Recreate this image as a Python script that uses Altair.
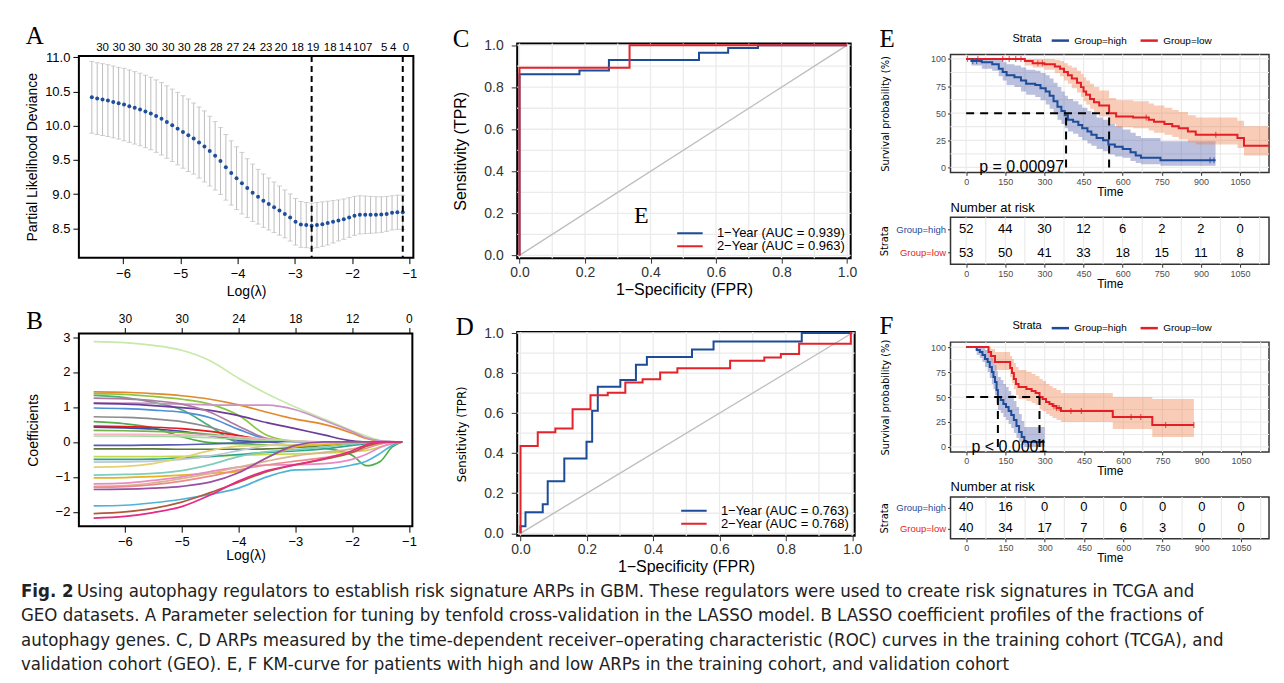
import json
import altair as alt
import pandas as pd

SANS = "Liberation Sans"
SERIF = "Liberation Serif"
NARROW = "DejaVu Sans Condensed, Roboto Condensed, Liberation Sans Narrow, Liberation Sans"

# ---------------- Panel A : cross-validation curve ----------------
A_loglambda = [-6.544, -6.450, -6.357, -6.263, -6.170, -6.076, -5.982, -5.889, -5.795, -5.702,
               -5.608, -5.514, -5.421, -5.327, -5.234, -5.140, -5.046, -4.953, -4.859, -4.766,
               -4.672, -4.578, -4.485, -4.391, -4.298, -4.204, -4.110, -4.017, -3.923, -3.830,
               -3.736, -3.642, -3.549, -3.455, -3.362, -3.268, -3.174, -3.081, -2.987, -2.894,
               -2.800, -2.706, -2.613, -2.519, -2.426, -2.332, -2.238, -2.145, -2.051, -1.958,
               -1.864, -1.770, -1.677, -1.583, -1.490, -1.396, -1.302, -1.209, -1.115]
A_cvm = [10.415, 10.396, 10.382, 10.367, 10.348, 10.329, 10.309, 10.285, 10.261, 10.237,
         10.208, 10.179, 10.140, 10.101, 10.053, 10.005, 9.957, 9.908, 9.860, 9.812,
         9.754, 9.696, 9.628, 9.560, 9.483, 9.391, 9.309, 9.232, 9.159, 9.087,
         9.019, 8.961, 8.903, 8.855, 8.807, 8.758, 8.710, 8.657, 8.594, 8.556,
         8.546, 8.536, 8.546, 8.560, 8.575, 8.594, 8.614, 8.633, 8.657, 8.681,
         8.696, 8.696, 8.696, 8.696, 8.700, 8.710, 8.725, 8.734, 8.734]
A_cvsd = [0.525, 0.525, 0.525, 0.525, 0.525, 0.525, 0.53, 0.53, 0.53, 0.53, 0.53,
          0.53, 0.53, 0.53, 0.53, 0.53, 0.53, 0.53, 0.53, 0.52, 0.52,
          0.52, 0.51, 0.50, 0.49, 0.48, 0.47, 0.46, 0.45, 0.43, 0.42,
          0.40, 0.39, 0.38, 0.37, 0.36, 0.35, 0.345, 0.34, 0.335, 0.33,
          0.33, 0.33, 0.325, 0.32, 0.31, 0.30, 0.295, 0.29, 0.285, 0.28,
          0.275, 0.27, 0.265, 0.26, 0.255, 0.25, 0.25, 0.25]
A_vlines = [-2.706, -1.115]
A_top_pos = [-6.365, -6.08, -5.81, -5.51, -5.22, -4.94, -4.66, -4.38, -4.09, -3.81, -3.51,
             -3.25, -2.96, -2.69, -2.39, -2.13, -1.88, -1.71, -1.45, -1.29, -1.07]
A_top_lab = ["30", "30", "30", "30", "30", "30", "28", "28", "27", "24", "23",
             "20", "18", "19", "18", "14", "10", "7", "5", "4", "0"]

# ---------------- Panel B : coefficient paths ----------------
B_grid = [-6.55, -6.0, -5.5, -5.0, -4.5, -4.0, -3.5, -3.0, -2.5, -2.0, -1.75, -1.5, -1.3, -1.12]
B_coef = {
    "g01": [2.87, 2.84, 2.76, 2.62, 2.32, 1.82, 1.38, 1.00, 0.66, 0.32, 0.17, 0.04, 0.01, 0],
    "g02": [1.43, 1.42, 1.38, 1.32, 1.22, 1.06, 0.85, 0.65, 0.50, 0.25, 0.10, 0.02, 0.0, 0],
    "g03": [1.38, 1.36, 1.30, 1.22, 1.08, 0.76, 0.19, 0.02, 0, 0, 0, 0, 0, 0],
    "g04": [1.33, 1.27, 1.13, 0.92, 0.45, 0.0, 0, 0, 0, 0, 0, 0, 0, 0],
    "g05": [1.12, 1.11, 1.10, 1.08, 1.06, 1.05, 1.05, 0.92, 0.62, 0.30, 0.12, 0.03, 0.01, 0],
    "g06": [1.10, 1.08, 1.04, 0.98, 0.90, 0.75, 0.55, 0.38, 0.20, 0.03, 0, 0, 0, 0],
    "g07": [1.25, 1.23, 1.18, 1.08, 0.85, 0.45, 0.10, 0, 0, 0, 0, 0, 0, 0],
    "g08": [0.97, 0.95, 0.91, 0.85, 0.69, 0.36, 0.08, 0, 0, 0, 0, 0, 0, 0],
    "g09": [0.72, 0.70, 0.66, 0.58, 0.42, 0.18, 0.03, 0, 0, 0, 0, 0, 0, 0],
    "g10": [0.58, 0.52, 0.40, 0.15, -0.02, -0.05, -0.08, -0.12, -0.18, -0.38, -0.68, -0.55, -0.15, 0],
    "g11": [0.45, 0.44, 0.42, 0.38, 0.30, 0.18, 0.05, 0, 0, 0, 0, 0, 0, 0],
    "g12": [0.42, 0.40, 0.37, 0.30, 0.18, 0.05, 0, 0, 0, 0, 0, 0, 0, 0],
    "g13": [0.33, 0.32, 0.30, 0.27, 0.22, 0.12, 0.04, 0, 0, 0, 0, 0, 0, 0],
    "g14": [0.22, 0.22, 0.21, 0.20, 0.18, 0.14, 0.08, 0.03, 0, 0, 0, 0, 0, 0],
    "g15": [0.17, 0.17, 0.16, 0.15, 0.12, 0.08, 0.04, 0.02, 0, 0, 0, 0, 0, 0],
    "g16": [-0.10, -0.10, -0.09, -0.08, -0.06, -0.03, 0, 0, 0, 0, 0, 0, 0, 0],
    "g17": [-0.20, -0.20, -0.20, -0.21, -0.21, -0.21, -0.20, -0.16, -0.10, -0.03, 0, 0, 0, 0],
    "g18": [-0.42, -0.42, -0.42, -0.41, -0.40, -0.38, -0.36, -0.34, -0.32, -0.28, -0.24, -0.14, -0.05, 0],
    "g19": [-0.50, -0.50, -0.49, -0.46, -0.42, -0.36, -0.30, -0.26, -0.20, -0.10, -0.05, -0.01, 0, 0],
    "g20": [-0.58, -0.57, -0.55, -0.50, -0.40, -0.25, -0.10, 0, 0, 0, 0, 0, 0, 0],
    "g21": [-0.72, -0.70, -0.62, -0.45, -0.25, -0.12, -0.10, -0.08, -0.05, -0.02, 0, 0, 0, 0],
    "g22": [-0.95, -0.93, -0.90, -0.82, -0.65, -0.42, -0.28, -0.22, -0.15, -0.06, -0.02, 0, 0, 0],
    "g23": [-1.03, -1.02, -0.99, -0.95, -0.90, -0.84, -0.45, -0.14, -0.08, -0.03, 0, 0, 0, 0],
    "g24": [-1.20, -1.18, -1.10, -1.00, -0.85, -0.72, -0.66, -0.65, -0.62, -0.50, -0.35, -0.15, -0.05, 0],
    "g25": [-1.27, -1.25, -1.17, -1.05, -0.90, -0.72, -0.55, -0.40, -0.30, -0.20, -0.12, -0.05, -0.01, 0],
    "g26": [-1.30, -1.28, -1.22, -1.12, -0.98, -0.80, -0.66, -0.55, -0.45, -0.30, -0.18, -0.06, -0.01, 0],
    "g27": [-1.36, -1.35, -1.32, -1.27, -1.15, -0.88, -0.45, -0.10, 0, 0, 0, 0, 0, 0],
    "g28": [-1.83, -1.81, -1.74, -1.64, -1.50, -1.32, -1.00, -0.80, -0.78, -0.66, -0.55, -0.32, -0.10, 0],
    "g29": [-2.05, -2.00, -1.90, -1.72, -1.45, -1.15, -0.85, -0.66, -0.50, -0.30, -0.12, -0.02, 0, 0],
    "g30": [-2.18, -2.13, -2.02, -1.85, -1.52, -1.12, -0.82, -0.65, -0.48, -0.25, -0.08, 0, 0, 0],
}
B_colors = ["#C7E9A9", "#E08A2B", "#8CC63F", "#4DAF7C", "#C994C7", "#6A3D9A", "#B07AA1", "#4E8FD6",
            "#8C8C8C", "#4DAF4A", "#E41A1C", "#3F48A8", "#74B347", "#F4B6C2", "#A6DBA0", "#5A5BB5",
            "#5C7A3A", "#C5D94A", "#2CA58D", "#B8C9D9", "#E3D26F", "#7FCDBB", "#E6B422", "#E78AC3",
            "#D9B48F", "#F08A8A", "#984EA3", "#4FB3D9", "#B05A3A", "#E7298A"]
B_top_pos = [-6, -5, -4, -3, -2, -1]
B_top_lab = ["30", "30", "24", "18", "12", "0"]

# ---------------- Panels C, D : ROC curves ----------------
ROC_TICKS = [0, 0.2, 0.4, 0.6, 0.8, 1.0]
ROC_GRID = [0, 0.1, 0.2, 0.3, 0.4, 0.5, 0.6, 0.7, 0.8, 0.9, 1.0]
DIAG = [0, 1]
C_labels = ["1\u2212Year (AUC = 0.939)", "2\u2212Year (AUC = 0.963)"]
C1_fpr = [0, 0.183, 0.273, 0.548, 0.637, 0.728, 1.0]
C1_tpr = [0, 0.862, 0.880, 0.929, 0.964, 0.987, 1.0]
C2_fpr = [0, 0.336, 1.0]
C2_tpr = [0, 0.892, 1.0]
C_stray = ["E"]
C_stray_fpr = [0.372]
C_stray_tpr = [0.188]

D_labels = ["1\u2212Year (AUC = 0.763)", "2\u2212Year (AUC = 0.768)"]
D1_fpr = [0, 0.015, 0.067, 0.082, 0.132, 0.199, 0.216, 0.233, 0.301, 0.348, 0.381, 0.517, 0.582, 0.848, 1.0]
D1_tpr = [0, 0.035, 0.105, 0.145, 0.260, 0.373, 0.457, 0.612, 0.732, 0.766, 0.841, 0.880, 0.918, 0.958, 1.0]
D2_fpr = [0, 0.052, 0.105, 0.157, 0.211, 0.263, 0.316, 0.368, 0.421, 0.473, 0.632, 0.735, 0.785, 0.840, 0.996, 1.0]
D2_tpr = [0, 0.436, 0.505, 0.523, 0.619, 0.689, 0.702, 0.753, 0.769, 0.803, 0.824, 0.861, 0.878, 0.895, 0.946, 1.0]

# ---------------- Panels E, F : Kaplan-Meier ----------------
GROUPS = ["Group=high", "Group=low"]
KM_TICKS = [0, 150, 300, 450, 600, 750, 900, 1050]
KM_XGRID = [0, 75, 150, 225, 300, 375, 450, 525, 600, 675, 750, 825, 900, 975, 1050, 1125]
KM_YTICKS = [0, 25, 50, 75, 100]
KM_YGRID = [0, 12.5, 25, 37.5, 50, 62.5, 75, 87.5, 100]
MEDIAN_LEVEL = 50

E_hi_t = [0, 20, 60, 100, 125, 140, 155, 185, 210, 230, 265, 285, 305, 320, 335, 350, 365, 378, 390, 410,
          430, 445, 465, 480, 500, 525, 545, 570, 600, 630, 650, 670, 745, 956]
E_hi_s = [100, 98, 97, 95, 91, 88, 85, 83, 80, 77, 76, 73, 70, 66, 61, 56, 52, 48, 44, 42,
          39, 36, 33, 30, 27, 25, 21, 19, 17, 14, 11, 9, 6.5, 6.5]
E_hi_u = [100, 100, 100, 100, 99, 97, 95, 94, 92, 90, 89, 87, 85, 82, 78, 74, 70, 66, 63, 61,
          58, 55, 52, 49, 46, 44, 40, 38, 35, 32, 29, 27, 24, 24]
E_hi_l = [100, 94, 91, 89, 84, 80, 76, 74, 70, 67, 65, 62, 58, 54, 49, 44, 40, 36, 33, 31,
          28, 25, 22, 20, 17, 15, 12, 10, 9, 6, 4, 3, 1.5, 1.5]
E_lo_t = [0, 225, 255, 300, 340, 360, 375, 390, 405, 425, 440, 450, 460, 475, 490, 510, 548, 575, 640, 700,
          720, 760, 790, 815, 850, 880, 1040, 1065, 1160]
E_lo_s = [100, 98, 96, 95, 93, 91, 88, 85, 82, 78, 74, 70, 67, 63, 60, 57, 50, 47, 46, 44,
          42, 40, 38, 36, 33, 30, 27, 20, 20]
E_lo_u = [100, 100, 100, 100, 99, 98, 96, 94, 92, 89, 86, 83, 80, 77, 74, 71, 64, 62, 61, 59,
          57, 55, 53, 51, 48, 46, 43, 38, 38]
E_lo_l = [100, 94, 92, 90, 87, 84, 80, 77, 73, 69, 65, 61, 58, 54, 51, 47, 40, 37, 36, 34,
          32, 30, 28, 26, 23, 21, 18, 11, 11]
E_cens_hi_t = [25, 40, 935, 950]
E_cens_hi_s = [98, 98, 6.5, 6.5]
E_cens_lo_t = [5, 45, 140, 165, 190, 210, 275, 292, 690, 957]
E_cens_lo_s = [100, 100, 100, 100, 100, 100, 96, 96, 46, 30]
E_medians = [383, 548]
E_pval = "p = 0.00097"
E_risk_hi = [52, 44, 30, 12, 6, 2, 2, 0]
E_risk_lo = [53, 50, 41, 33, 18, 15, 11, 8]

F_hi_t = [0, 40, 52, 62, 72, 82, 90, 98, 104, 110, 116, 121, 132, 142, 152, 162, 172, 182, 192, 202, 212, 222, 300]
F_hi_s = [100, 97, 95, 92, 88, 85, 80, 75, 70, 65, 57, 50, 47, 43, 40, 36, 32, 27, 21, 15, 10, 5, 5]
F_hi_u = [100, 100, 100, 99, 97, 95, 92, 89, 86, 82, 76, 70, 67, 63, 60, 56, 52, 46, 40, 33, 26, 20, 20]
F_hi_l = [100, 92, 89, 85, 80, 75, 69, 63, 58, 52, 44, 37, 34, 30, 27, 23, 19, 14, 9, 5, 2, 0, 0]
F_lo_t = [0, 85, 95, 110, 168, 175, 182, 190, 200, 230, 250, 265, 280, 292, 305, 318, 330, 345, 362, 560, 711, 870]
F_lo_s = [100, 95, 91, 85, 79, 74, 68, 63, 60, 58, 56, 54, 50, 48, 45, 43, 41, 39, 36, 30, 22, 22]
F_lo_u = [100, 100, 98, 95, 91, 88, 84, 80, 77, 75, 73, 71, 68, 66, 63, 61, 59, 57, 54, 50, 48, 48]
F_lo_l = [100, 90, 84, 77, 70, 64, 58, 52, 48, 46, 44, 42, 38, 36, 33, 31, 29, 27, 25, 18, 10, 10]
F_cens_hi_t = [295]
F_cens_hi_s = [5]
F_cens_lo_t = [335, 345, 355, 400, 440, 630, 667, 762, 870]
F_cens_lo_s = [41, 39, 39, 36, 36, 30, 30, 22, 22]
F_medians = [121, 280]
F_pval = "p < 0.0001"
F_risk_hi = [40, 16, 0, 0, 0, 0, 0, 0]
F_risk_lo = [40, 34, 17, 7, 6, 3, 0, 0]

CAPTION_BOLD = "Fig. 2"
CAPTION_LINES = [
    "Using autophagy regulators to establish risk signature ARPs in GBM. These regulators were used to create risk signatures in TCGA and",
    "GEO datasets. A Parameter selection for tuning by tenfold cross-validation in the LASSO model. B LASSO coefficient profiles of the fractions of",
    "autophagy genes. C, D ARPs measured by the time-dependent receiver\u2013operating characteristic (ROC) curves in the training cohort (TCGA), and",
    "validation cohort (GEO). E, F KM-curve for patients with high and low ARPs in the training cohort, and validation cohort",
]

BLUE_ROC = "#1B4C97"
RED_ROC = "#E4232B"
BLUE_KM = "#1E4C98"
RED_KM = "#E31E24"
BAND_BLUE = "#4A5AA8"
BAND_RED = "#EE7A45"
GRIDC = "#EBEBEB"

INDEP = dict(color="independent", fill="independent", stroke="independent")


def indep_concat(c):
    return c.resolve_scale(**INDEP).resolve_legend(**INDEP)


def indep_layer(c):
    return c.resolve_axis(x="independent", y="independent")


def letter(ch, offset, dx=0):
    return alt.TitleParams(text=ch, font=SERIF, fontSize=25, fontWeight="normal", anchor="start",
                           frame="bounds", offset=offset, dx=dx, color="black")


def raxis(**kw):
    base = dict(labelFont=SANS, titleFont=SANS, labelFontSize=13, titleFontSize=14,
                titleFontWeight="normal", labelColor="black", titleColor="black", tickColor="black",
                tickSize=6, tickWidth=1, domain=False, grid=False, labelFlush=False, labelOverlap=False)
    base.update(kw)
    return alt.Axis(**base)


def gaxis(**kw):
    base = dict(labelFont=SANS, titleFont=SANS, titleFontWeight="normal", labelColor="#333333",
                titleColor="black", tickColor="#333333", domain=False, grid=False,
                labelFlush=False, labelOverlap=False)
    base.update(kw)
    return alt.Axis(**base)


def lab_expr(pos, lab):
    return f"{json.dumps(lab)}[indexof({json.dumps(pos)}, datum.value)]"


# ---------------- build A ----------------
dfA = pd.DataFrame({"loglambda": A_loglambda, "cvm": A_cvm, "cvsd": A_cvsd})
dfA["lo"] = dfA["cvm"] - dfA["cvsd"]
dfA["hi"] = dfA["cvm"] + dfA["cvsd"]
xsA = alt.Scale(domain=[-6.77, -0.93], nice=False, zero=False)
ysA = alt.Scale(domain=[8.07, 11.02], nice=False, zero=False)

A_err = alt.Chart(dfA).mark_rule(color="#BDBDBD", strokeWidth=1).encode(
    x=alt.X("loglambda:Q", scale=xsA, axis=None),
    y=alt.Y("lo:Q", scale=ysA, axis=None), y2="hi:Q")
A_cap1 = alt.Chart(dfA).mark_tick(color="#BDBDBD", orient="horizontal", size=5, thickness=1).encode(
    x=alt.X("loglambda:Q", scale=xsA, axis=None), y=alt.Y("lo:Q", scale=ysA, axis=None))
A_cap2 = alt.Chart(dfA).mark_tick(color="#BDBDBD", orient="horizontal", size=5, thickness=1).encode(
    x=alt.X("loglambda:Q", scale=xsA, axis=None), y=alt.Y("hi:Q", scale=ysA, axis=None))
A_pts = alt.Chart(dfA).mark_circle(size=16, color="#1F4E9A", opacity=1).encode(
    x=alt.X("loglambda:Q", scale=xsA,
            axis=raxis(orient="bottom", values=[-6, -5, -4, -3, -2, -1], title="Log(\u03bb)",
                       labelPadding=4, titlePadding=4)),
    y=alt.Y("cvm:Q", scale=ysA,
            axis=raxis(orient="left", values=[8.5, 9.0, 9.5, 10.0, 10.5, 11.0], format=".1f",
                       title="Partial Likelihood Deviance", labelPadding=3, titlePadding=5)))
A_vl = alt.Chart(pd.DataFrame({"loglambda": A_vlines})).mark_rule(
    color="black", strokeDash=[6, 4], strokeWidth=2).encode(
    x=alt.X("loglambda:Q", scale=xsA,
            axis=alt.Axis(orient="top", values=A_top_pos, labelExpr=lab_expr(A_top_pos, A_top_lab),
                          ticks=False, domain=False, grid=False, title=None, labelFont=SANS,
                          labelFontSize=11.5, labelColor="black", labelPadding=3,
                          labelOverlap=False, labelFlush=False)))
panelA = indep_layer(alt.layer(A_err, A_cap1, A_cap2, A_pts, A_vl)).properties(
    width=335, height=202, title=letter("A", -7),
    view=alt.ViewBackground(stroke="black", strokeWidth=2))

# ---------------- build B ----------------
rowsB = []
for name, vals in B_coef.items():
    for xv, yv in zip(B_grid, vals):
        rowsB.append({"gene": name, "loglambda": xv, "coef": yv})
dfB = pd.DataFrame(rowsB)
xsB = alt.Scale(domain=[-6.81, -0.94], nice=False, zero=False)
ysB = alt.Scale(domain=[-2.41, 3.10], nice=False, zero=False)
B_lines = alt.Chart(dfB).mark_line(interpolate="monotone", strokeWidth=1.7).encode(
    x=alt.X("loglambda:Q", scale=xsB,
            axis=raxis(orient="bottom", values=[-6, -5, -4, -3, -2, -1], title="Log(\u03bb)",
                       labelPadding=3, titlePadding=0)),
    y=alt.Y("coef:Q", scale=ysB,
            axis=raxis(orient="left", values=[-2, -1, 0, 1, 2, 3], title="Coefficients",
                       labelPadding=3, titlePadding=15)),
    color=alt.Color("gene:N", scale=alt.Scale(domain=list(B_coef.keys()), range=B_colors), legend=None))
B_top = alt.Chart(pd.DataFrame({"loglambda": B_top_pos})).mark_rule(opacity=0).encode(
    x=alt.X("loglambda:Q", scale=xsB,
            axis=raxis(orient="top", values=B_top_pos, labelExpr=lab_expr(B_top_pos, B_top_lab),
                       title=None, labelPadding=2, labelFontSize=12)))
panelB = indep_layer(alt.layer(B_lines, B_top)).properties(
    width=334, height=193, title=letter("B", -21),
    view=alt.ViewBackground(stroke="black", strokeWidth=2))


# ---------------- ROC panels ----------------
def roc_panel(ch, f1, t1, f2, t2, labs, w, h, xdom, ydom, ytfont, ytsize, stray=None, toff=-10):
    xs = alt.Scale(domain=xdom, nice=False, zero=False)
    ys = alt.Scale(domain=ydom, nice=False, zero=False)
    gdf = pd.DataFrame({"v": ROC_GRID})
    gx = alt.Chart(gdf).mark_rule(color=GRIDC, strokeWidth=1.3).encode(x=alt.X("v:Q", scale=xs, axis=None))
    gy = alt.Chart(gdf).mark_rule(color=GRIDC, strokeWidth=1.3).encode(y=alt.Y("v:Q", scale=ys, axis=None))
    diag = alt.Chart(pd.DataFrame({"fpr": DIAG, "tpr": DIAG})).mark_line(color="#BEBEBE", strokeWidth=1.4).encode(
        x=alt.X("fpr:Q", scale=xs, axis=None), y=alt.Y("tpr:Q", scale=ys, axis=None))
    df = pd.concat([pd.DataFrame({"fpr": f1, "tpr": t1, "curve": labs[0]}),
                    pd.DataFrame({"fpr": f2, "tpr": t2, "curve": labs[1]})], ignore_index=True)
    curves = alt.Chart(df).mark_line(interpolate="step-before", strokeWidth=2).encode(
        x=alt.X("fpr:Q", scale=xs,
                axis=gaxis(orient="bottom", values=ROC_TICKS, format=".1f", title="1\u2212Specificity (FPR)",
                           labelFontSize=14, titleFontSize=16, tickSize=5, labelPadding=2, titlePadding=2)),
        y=alt.Y("tpr:Q", scale=ys,
                axis=gaxis(orient="left", values=ROC_TICKS, format=".1f", title="Sensitivity (TPR)",
                           labelFontSize=14, titleFont=ytfont, titleFontSize=ytsize, tickSize=6,
                           labelPadding=8, titlePadding=15)),
        color=alt.Color("curve:N", scale=alt.Scale(domain=labs, range=[BLUE_ROC, RED_ROC]),
                        legend=alt.Legend(title=None, orient="bottom-right", offset=5, labelFont=SANS,
                                          labelFontSize=13, labelColor="black", symbolType="stroke",
                                          symbolStrokeWidth=2, symbolSize=650, rowPadding=0, padding=0,
                                          clipHeight=12, labelOffset=13)))
    layers = [gx, gy, diag, curves]
    if stray is not None:
        sdf = pd.DataFrame({"fpr": stray[1], "tpr": stray[2], "t": stray[0]})
        layers.append(alt.Chart(sdf).mark_text(font=SERIF, fontSize=24, color="black").encode(
            x=alt.X("fpr:Q", scale=xs, axis=None), y=alt.Y("tpr:Q", scale=ys, axis=None), text="t:N"))
    return indep_layer(alt.layer(*layers)).properties(
        width=w, height=h, title=letter(ch, toff),
        view=alt.ViewBackground(stroke="black", strokeWidth=2))


panelC = roc_panel("C", C1_fpr, C1_tpr, C2_fpr, C2_tpr, C_labels, 334, 215,
                   [-0.007, 1.011], [-0.013, 1.008], SANS, 16, stray=(C_stray, C_stray_fpr, C_stray_tpr),
                   toff=-14)
panelD = roc_panel("D", D1_fpr, D1_tpr, D2_fpr, D2_tpr, D_labels, 338, 204,
                   [-0.010, 1.0075], [-0.012, 1.005], NARROW, 13, toff=-14)


# ---------------- KM panels ----------------
def km_panel(ch, hi, lo, cens, medians, ptext, ptime, w, h, xdom, ydom, ytpad, toff):
    xs = alt.Scale(domain=xdom, nice=False, zero=False)
    ys = alt.Scale(domain=ydom, nice=False, zero=False)
    dhi = pd.DataFrame({"t": hi[0], "s": hi[1], "u": hi[2], "l": hi[3], "group": GROUPS[0]})
    dlo = pd.DataFrame({"t": lo[0], "s": lo[1], "u": lo[2], "l": lo[3], "group": GROUPS[1]})
    curv = pd.concat([dhi, dlo], ignore_index=True)
    xn = alt.X("t:Q", scale=xs, axis=None)
    gx = alt.Chart(pd.DataFrame({"t": KM_XGRID})).mark_rule(color=GRIDC, strokeWidth=1.2).encode(x=xn)
    gy = alt.Chart(pd.DataFrame({"s": KM_YGRID})).mark_rule(color=GRIDC, strokeWidth=1.2).encode(
        y=alt.Y("s:Q", scale=ys, axis=None))
    band_hi = alt.Chart(dhi).mark_area(interpolate="step-after", opacity=0.38, color=BAND_BLUE).encode(
        x=xn, y=alt.Y("l:Q", scale=ys, axis=None), y2="u:Q")
    band_lo = alt.Chart(dlo).mark_area(interpolate="step-after", opacity=0.38, color=BAND_RED).encode(
        x=xn, y=alt.Y("l:Q", scale=ys, axis=None), y2="u:Q")
    line = alt.Chart(curv).mark_line(interpolate="step-after", strokeWidth=2).encode(
        x=alt.X("t:Q", scale=xs,
                axis=gaxis(orient="bottom", values=KM_TICKS, format="d", title="Time", labelFontSize=9,
                           titleFontSize=12, tickSize=3, labelPadding=2, titlePadding=0, labelColor="#4D4D4D")),
        y=alt.Y("s:Q", scale=ys,
                axis=gaxis(orient="left", values=KM_YTICKS, format="d", title="Survival probability (%)",
                           labelFontSize=9, titleFont=NARROW, titleFontSize=11, tickSize=3, labelPadding=2,
                           titlePadding=ytpad, labelColor="#4D4D4D")),
        color=alt.Color("group:N", scale=alt.Scale(domain=GROUPS, range=[BLUE_KM, RED_KM]),
                        legend=alt.Legend(title="Strata", orient="none", legendX=62, legendY=-24,
                                          direction="horizontal", titleOrient="left", symbolType="stroke",
                                          symbolStrokeWidth=2.5, symbolSize=300, labelFontSize=10,
                                          titleFontSize=11, titleFontWeight="normal", labelFont=SANS,
                                          titleFont=SANS, columnPadding=8, titlePadding=8)))
    t_hi = alt.Chart(pd.DataFrame({"t": cens[0], "s": cens[1]})).mark_tick(
        orient="vertical", size=6, thickness=1.2, color=BLUE_KM).encode(x=xn, y=alt.Y("s:Q", scale=ys, axis=None))
    t_lo = alt.Chart(pd.DataFrame({"t": cens[2], "s": cens[3]})).mark_tick(
        orient="vertical", size=6, thickness=1.2, color=RED_KM).encode(x=xn, y=alt.Y("s:Q", scale=ys, axis=None))
    hdf = pd.DataFrame({"t": [0], "t2": [max(medians)], "s": [MEDIAN_LEVEL]})
    vdf = pd.DataFrame({"t": medians, "s": [0] * len(medians), "s2": [MEDIAN_LEVEL] * len(medians)})
    hrule = alt.Chart(hdf).mark_rule(color="black", strokeDash=[8, 6], strokeWidth=2).encode(
        x=xn, x2="t2:Q", y=alt.Y("s:Q", scale=ys, axis=None))
    vrule = alt.Chart(vdf).mark_rule(color="black", strokeDash=[8, 6], strokeWidth=2).encode(
        x=xn, y=alt.Y("s:Q", scale=ys, axis=None), y2="s2:Q")
    ptxt = alt.Chart(pd.DataFrame({"t": [ptime], "s": [0], "lab": [ptext]})).mark_text(
        align="left", baseline="middle", font=SANS, fontSize=16, color="black").encode(
        x=xn, y=alt.Y("s:Q", scale=ys, axis=None), text="lab:N")
    return indep_layer(alt.layer(gx, gy, band_hi, band_lo, line, t_hi, t_lo, hrule, vrule, ptxt)).properties(
        width=w, height=h, title=letter(ch, toff),
        view=alt.ViewBackground(stroke="#333333", strokeWidth=1.5))


def risk_table(hi, lo, w, h, xdom, ytpad):
    xs = alt.Scale(domain=xdom, nice=False, zero=False)
    df = pd.concat([pd.DataFrame({"t": KM_TICKS, "n": hi, "group": GROUPS[0]}),
                    pd.DataFrame({"t": KM_TICKS, "n": lo, "group": GROUPS[1]})], ignore_index=True)
    gx = alt.Chart(pd.DataFrame({"t": KM_XGRID})).mark_rule(color=GRIDC, strokeWidth=1.2).encode(
        x=alt.X("t:Q", scale=xs, axis=None))
    txt = alt.Chart(df).mark_text(font=SANS, fontSize=13, color="black").encode(
        x=alt.X("t:Q", scale=xs,
                axis=gaxis(orient="bottom", values=KM_TICKS, format="d", title="Time", labelFontSize=9,
                           titleFontSize=12, tickSize=3, labelPadding=2, titlePadding=0, labelColor="#4D4D4D")),
        y=alt.Y("group:N", scale=alt.Scale(domain=GROUPS, type="point", padding=0.5),
                axis=gaxis(orient="left", title="Strata", titleFont=NARROW, titleFontSize=11, labelFontSize=9.5,
                           tickSize=3, labelPadding=2, titlePadding=ytpad,
                           labelColor={"expr": f"datum.value == '{GROUPS[0]}' ? '{BLUE_KM}' : '{RED_KM}'"})),
        text="n:Q")
    return indep_layer(alt.layer(gx, txt)).properties(
        width=w, height=h,
        title=alt.TitleParams(text="Number at risk", font=SANS, fontSize=13, fontWeight="normal",
                              anchor="start", frame="group", offset=2, color="black"),
        view=alt.ViewBackground(stroke="#333333", strokeWidth=1.5))


E_surv = km_panel("E", (E_hi_t, E_hi_s, E_hi_u, E_hi_l), (E_lo_t, E_lo_s, E_lo_u, E_lo_l),
                  (E_cens_hi_t, E_cens_hi_s, E_cens_lo_t, E_cens_lo_s), E_medians, E_pval, 50,
                  319, 118, [-60, 1161], [-4.6, 104], 40, -21)
E_tab = risk_table(E_risk_hi, E_risk_lo, 319, 47, [-60, 1161], 6)
F_surv = km_panel("F", (F_hi_t, F_hi_s, F_hi_u, F_hi_l), (F_lo_t, F_lo_s, F_lo_u, F_lo_l),
                  (F_cens_hi_t, F_cens_hi_s, F_cens_lo_t, F_cens_lo_s), F_medians, F_pval, 20,
                  319, 110, [-60, 1157], [-5, 105], 40, -21)
F_tab = risk_table(F_risk_hi, F_risk_lo, 319, 42, [-60, 1157], 6)

# ---------------- caption ----------------
CAP_SIZE = 18.5
cap_df = pd.DataFrame({"line": list(range(len(CAPTION_LINES))), "text": CAPTION_LINES})
cap_y = alt.Y("line:O", axis=None, scale=alt.Scale(paddingInner=0, paddingOuter=0))
cap_first = alt.Chart(cap_df[cap_df.line == 0]).mark_text(
    align="left", baseline="middle", font=NARROW, fontSize=CAP_SIZE, color="#222222", dx=-2).encode(
    x=alt.value(0), y=cap_y, text="text:N")
cap_rest = alt.Chart(cap_df[cap_df.line > 0]).mark_text(
    align="left", baseline="middle", font=NARROW, fontSize=CAP_SIZE, color="#222222", dx=-58).encode(
    x=alt.value(0), y=cap_y, text="text:N")
cap_bold = alt.Chart(pd.DataFrame({"line": [0], "text": [CAPTION_BOLD]})).mark_text(
    align="left", baseline="middle", font=NARROW, fontSize=CAP_SIZE, fontWeight="bold", color="#222222",
    dx=-58).encode(x=alt.value(0), y=cap_y, text="text:N")
caption = alt.layer(cap_bold, cap_first, cap_rest).properties(
    width=1150, height=98, view=alt.ViewBackground(strokeWidth=0, strokeOpacity=0))

col1 = indep_concat(alt.vconcat(panelA, panelB, spacing=8))
col2 = indep_concat(alt.vconcat(panelC, panelD, spacing=16))
colE = indep_concat(alt.vconcat(E_surv, E_tab, spacing=2))
colF = indep_concat(alt.vconcat(F_surv, F_tab, spacing=2))
col3 = indep_concat(alt.vconcat(colE, colF, spacing=23))
right = indep_concat(alt.concat(col2, col3, columns=2, center=True, spacing=14))
top = indep_concat(alt.concat(col1, right, columns=2, center=True, spacing=33))

chart = indep_concat(alt.vconcat(top, caption, spacing=3)).properties(
    padding={"left": 13, "top": 14, "right": 2, "bottom": 0}
).configure_view(strokeWidth=0).configure(background="white")

chart.save("out.html", embed_options={"renderer": "svg", "actions": False})
